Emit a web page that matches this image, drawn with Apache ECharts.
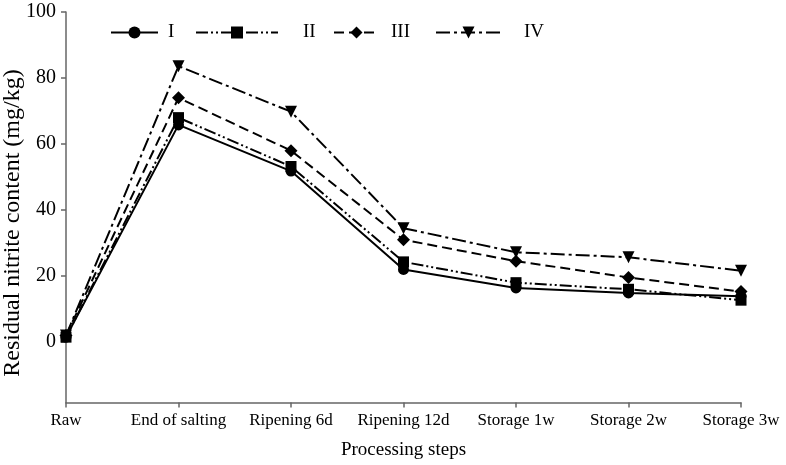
<!DOCTYPE html>
<html>
<head>
<meta charset="utf-8">
<script src="https://cdn.jsdelivr.net/npm/echarts@6/dist/echarts.min.js"></script>
<style>html,body{margin:0;padding:0;background:#fff}#c{width:786px;height:465px}</style>
</head>
<body>
<div id="c"></div>
<script>
const categories = ['Raw', 'End of salting', 'Ripening 6d', 'Ripening 12d', 'Storage 1w', 'Storage 2w', 'Storage 3w'];
const seriesI   = [1.5, 65.8, 51.8, 22.0, 16.4, 14.9, 13.9];
const seriesII  = [1.5, 68.0, 53.2, 24.3, 18.0, 16.0, 12.7];
const seriesIII = [2.0, 74.0, 58.0, 31.0, 24.5, 19.6, 15.3];
const seriesIV  = [2.0, 83.6, 69.8, 34.5, 27.2, 25.7, 21.6];
const yTicks = [0, 20, 40, 60, 80, 100];

const FONT = '"Liberation Serif", "Times New Roman", serif';
const chart = echarts.init(document.getElementById('c'), null, {renderer: 'canvas'});

function mkSeries(name, data, symbol, size, dash) {
  return {
    name, type: 'line', data, symbol, symbolSize: size,
    showSymbol: true,
    itemStyle: {color: '#000'},
    lineStyle: {color: '#000', width: 2, type: dash},
    emphasis: {disabled: true},
    animation: false
  };
}

function mkLegend(name, left, width, textPad) {
  return {
    data: [name], left: left, top: 18, itemWidth: width, itemHeight: 15,
    textStyle: {fontFamily: FONT, fontSize: 19, color: '#000', padding: [0, 0, 0, textPad]}
  };
}

chart.setOption({
  animation: false,
  backgroundColor: '#fff',
  legend: [
    mkLegend('I', 105, 47, 5),
    mkLegend('II', 190, 82, 20),
    mkLegend('III', 328, 45, 7),
    mkLegend('IV', 430, 65, 18)
  ],
  grid: {left: 66, right: 45, top: 12, bottom: 62.5, containLabel: false},
  xAxis: {
    type: 'category', data: categories, boundaryGap: false,
    name: 'Processing steps', nameLocation: 'middle', nameGap: 38,
    nameTextStyle: {fontFamily: FONT, fontSize: 19, color: '#000'},
    axisLine: {onZero: false, lineStyle: {color: '#666', width: 1.5}},
    axisTick: {show: true, length: 5, inside: false, lineStyle: {color: '#666', width: 1.5}},
    axisLabel: {fontFamily: FONT, fontSize: 17, color: '#000', margin: 10, interval: 0},
    splitLine: {show: false}
  },
  yAxis: {
    type: 'value', min: -18.3, max: 100,
    axisLine: {show: true, lineStyle: {color: '#666', width: 1.5}},
    axisTick: {show: true, length: 5, customValues: yTicks, lineStyle: {color: '#666', width: 1.5}},
    axisLabel: {fontFamily: FONT, fontSize: 20, color: '#000', margin: 10, customValues: yTicks},
    splitLine: {show: false}
  },
  graphic: [{
    type: 'text', x: 13, y: 223, rotation: Math.PI / 2,
    style: {text: 'Residual nitrite content (mg/kg)', fontFamily: FONT, fontSize: 24, fill: '#000',
            align: 'center', verticalAlign: 'middle'}
  }],
  series: [
    mkSeries('I', seriesI, 'circle', 11, 'solid'),
    mkSeries('II', seriesII, 'rect', 11, [12, 3, 2, 3, 2, 3]),
    mkSeries('III', seriesIII, 'diamond', 13, [10, 5]),
    mkSeries('IV', seriesIV, 'path://M0,0 L10,0 L5,9 Z', 12, [14, 4, 3, 4])
  ]
});
</script>
</body>
</html>
